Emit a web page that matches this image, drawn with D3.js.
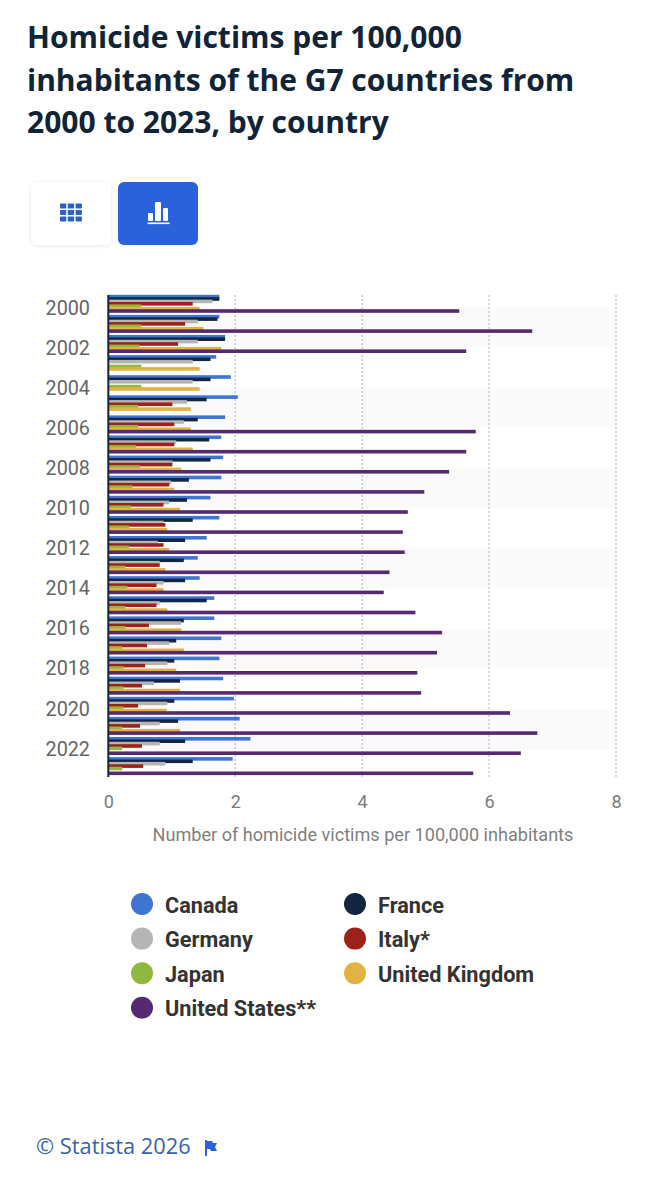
<!DOCTYPE html>
<html>
<head>
<meta charset="utf-8">
<script src="https://cdn.jsdelivr.net/npm/d3@7"></script>
<style>
html, body { margin: 0; padding: 0; background: #fff; }
svg { display: block; }
</style>
</head>
<body>
<svg id="chart" width="653" height="1200"></svg>
<script>
const years = d3.range(2000, 2024);
const yearLabels = d3.range(2000, 2024, 2);
const xTicks = [0, 2, 4, 6, 8];

const canada = [1.75,1.75,1.84,1.70,1.93,2.04,1.84,1.78,1.81,1.78,1.61,1.75,1.55,1.41,1.44,1.67,1.67,1.78,1.75,1.81,1.98,2.07,2.24,1.96];
const france = [1.75,1.72,1.84,1.61,1.61,1.55,1.41,1.59,1.61,1.27,1.24,1.33,1.21,1.19,1.21,1.55,1.19,1.07,1.04,1.13,1.04,1.10,1.21,1.33];
const germany = [1.64,1.41,1.41,1.33,1.33,1.24,1.19,1.07,1.01,0.99,0.96,0.87,0.78,0.81,0.87,0.81,1.15,0.96,0.93,0.72,0.93,0.81,0.81,0.90];
const italy = [1.33,1.21,1.10,null,null,1.01,1.04,1.04,1.01,0.96,0.87,0.90,0.87,0.81,0.76,0.76,0.64,0.61,0.58,0.53,0.47,0.50,0.53,0.55];
const japan = [0.52,0.52,0.49,0.52,0.52,0.47,0.47,0.44,0.50,0.38,0.36,0.33,0.33,0.27,0.30,0.27,0.27,0.22,0.24,0.24,0.24,0.22,0.22,0.22];
const uk = [1.44,1.50,1.78,1.44,1.44,1.30,1.30,1.33,1.15,1.04,1.13,0.93,0.96,0.90,0.87,0.93,1.15,1.19,1.07,1.13,0.92,1.13,null,null];
const us = [5.53,6.68,5.64,null,null,null,5.79,5.64,5.37,4.98,4.72,4.64,4.67,4.43,4.34,4.84,5.26,5.18,4.87,4.93,6.33,6.76,6.50,5.75];

const seriesNames = ["Canada","France","Germany","Italy*","Japan","United Kingdom","United States**"];
const seriesValues = [canada, france, germany, italy, japan, uk, us];
const seriesColors = ["#3f74d3","#14263f","#b5b5b5","#9c2118","#8fb93e","#e3b342","#552a6f"];

const titleLines = ["Homicide victims per 100,000","inhabitants of the G7 countries from","2000 to 2023, by country"];

const svg = d3.select("#chart");

svg.append("g").selectAll("text")
  .data(titleLines)
  .join("text")
    .attr("x", 27)
    .attr("y", (d, i) => 48 + i * 42.6)
    .attr("font-family", "'Open Sans'")
    .attr("font-weight", 700)
    .attr("font-size", 30)
    .attr("fill", "#0f2437")
    .text(d => d);

// view toggle
const shadow = svg.append("defs").append("filter").attr("id", "sh")
  .attr("x", "-20%").attr("y", "-20%").attr("width", "140%").attr("height", "140%");
shadow.append("feDropShadow").attr("dx", 0).attr("dy", 1).attr("stdDeviation", 2)
  .attr("flood-color", "#000").attr("flood-opacity", 0.1);

const btnColor = "#2a62d9";
svg.append("rect").attr("x", 31).attr("y", 182).attr("width", 80).attr("height", 63).attr("rx", 6)
  .attr("fill", "#fff").attr("filter", "url(#sh)");
svg.append("rect").attr("x", 118).attr("y", 182).attr("width", 80).attr("height", 63).attr("rx", 6)
  .attr("fill", btnColor);
const gridIcon = svg.append("g").attr("fill", "#2b62c4");
d3.cross([60, 67.8, 75.6], [203.5, 210, 216.5]).forEach(([x, y]) => {
  gridIcon.append("rect").attr("x", x).attr("y", y).attr("width", 6.3).attr("height", 5).attr("rx", 0.8);
});
const barIcon = svg.append("g").attr("fill", "#fff");
[[148, 213, 5, 8], [155, 202, 6, 19], [163, 208, 5, 13]].forEach(([x, y, w, h]) => {
  barIcon.append("rect").attr("x", x).attr("y", y).attr("width", w).attr("height", h).attr("rx", 1);
});
barIcon.append("rect").attr("x", 147.5).attr("y", 222.5).attr("width", 22).attr("height", 1.6);

// chart
const x = d3.scaleLinear().domain([0, 8]).range([108.3, 616]);
const y = d3.scaleBand().domain(years).range([295, 777.4]);
// bars in a group overlap, 2.4px apart and 3.6 thick
const inner = d3.scaleBand().domain(d3.range(7)).range([0, 16.8]);

const plot = svg.append("g");
yearLabels.forEach((yr, i) => {
  if (i % 2 === 0) {
    plot.append("rect")
      .attr("x", x(0)).attr("width", 617 - x(0))
      .attr("y", y(yr) + 12).attr("height", y.step() * 2)
      .attr("fill", "#fafafa");
  }
});

plot.append("g").selectAll("line")
  .data(xTicks.slice(1))
  .join("line")
    .attr("x1", d => x(d)).attr("x2", d => x(d))
    .attr("y1", 295).attr("y2", 777)
    .attr("stroke", "#bdbdbd").attr("stroke-width", 1.2).attr("stroke-dasharray", "2 2");

const groups = plot.append("g").selectAll("g")
  .data(seriesValues)
  .join("g")
    .attr("fill", (d, i) => seriesColors[i]);

groups.each(function(vals, s) {
  d3.select(this).selectAll("rect")
    .data(vals.map((v, i) => ({v, year: years[i]})).filter(d => d.v !== null))
    .join("rect")
      .attr("x", x(0))
      .attr("y", d => y(d.year) + inner(s) - 0.2)
      .attr("width", d => x(d.v) - x(0))
      .attr("height", 3.6);
});

plot.append("line")
  .attr("x1", x(0)).attr("x2", x(0)).attr("y1", 295).attr("y2", 777)
  .attr("stroke", "#14263f").attr("stroke-width", 2);

// axes
const xAxis = d3.axisBottom(x).tickValues(xTicks).tickSize(0).tickPadding(0).tickFormat(d3.format("d"));
const xg = svg.append("g").attr("transform", "translate(0,795)").call(xAxis);
xg.select(".domain").remove();
xg.selectAll("text").attr("font-family", "Roboto").attr("font-size", 18).attr("fill", "#7a7a7a").attr("dy", "0.71em");

const labelY = d3.scalePoint().domain(yearLabels).range([314.6, 755.6]);
svg.append("g").selectAll("text")
  .data(yearLabels)
  .join("text")
    .attr("x", 90).attr("y", d => labelY(d))
    .attr("text-anchor", "end")
    .attr("font-family", "Roboto").attr("font-size", 19.8).attr("fill", "#666")
    .text(d => d);

svg.append("text")
  .attr("x", 363).attr("y", 841)
  .attr("text-anchor", "middle")
  .attr("font-family", "Roboto").attr("font-size", 18.1).attr("fill", "#7f7f7f")
  .text("Number of homicide victims per 100,000 inhabitants");

// legend
const legendX = [142, 355];
const legend = svg.append("g").selectAll("g")
  .data(seriesNames)
  .join("g")
    .attr("transform", (d, i) => `translate(${legendX[i % 2]},${904 + Math.floor(i / 2) * 34.6})`);
legend.append("circle").attr("r", 11).attr("fill", (d, i) => seriesColors[i]);
legend.append("text")
  .attr("x", 23).attr("y", 8.5)
  .attr("font-family", "Roboto").attr("font-weight", 700).attr("font-size", 21.7).attr("fill", "#333")
  .text(d => d);

// footer
svg.append("text")
  .attr("x", 36).attr("y", 1154)
  .attr("font-family", "'Open Sans'").attr("font-size", 21.8).attr("fill", "#3a62a8")
  .text("© Statista 2026");
svg.append("path")
  .attr("d", "M205 1140h2v16h-2zM207 1141h5l1 2h4l-2 4 2 4h-6l-1-2h-3z")
  .attr("fill", btnColor);
</script>
</body>
</html>
